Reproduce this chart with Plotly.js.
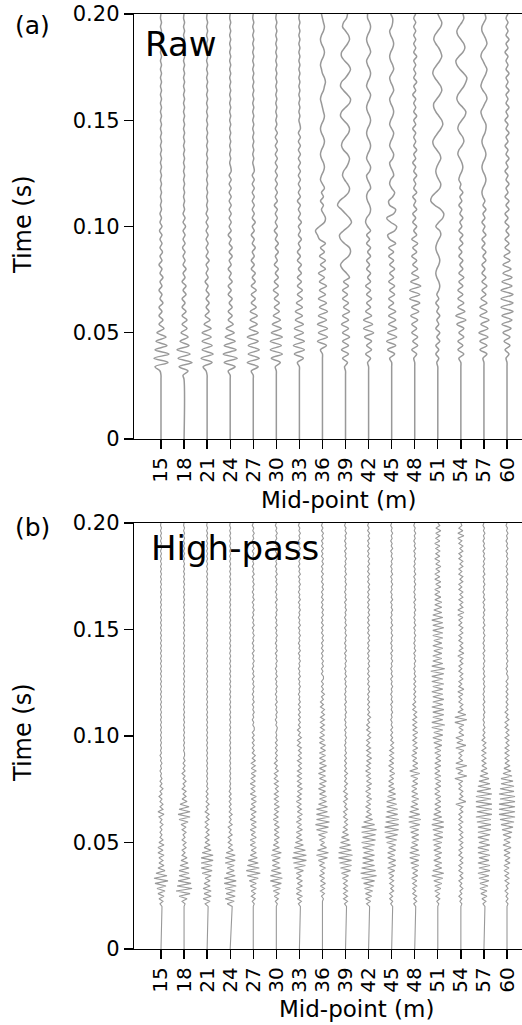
<!DOCTYPE html>
<html><head><meta charset="utf-8">
<script src="https://cdn.plot.ly/plotly-3.0.1.min.js"></script>
<style>html,body{margin:0;padding:0;background:#fff}#chart{width:522px;height:1025px}</style>
</head><body><div id="chart"></div>
<script>
// ---------- data ----------
const midpoints = [15,18,21,24,27,30,33,36,39,42,45,48,51,54,57,60];
const midpointLabels = midpoints.map(String);
const timeTicks = [0, 0.05, 0.10, 0.15, 0.20];
const timeTickLabels = ['0','0.05','0.10','0.15','0.20'];

// Raw traces: amplitude samples (arbitrary units) from t = 0.028 s every 0.002 s
const rawStart = 0.028, rawStep = 0.002;
const rawAmp = [
 [0,0,-1,-6,7,-7,8,-6,6,-5, 5,-4,3,-2,2,-2,1,-2,2,-1, 1,-2,1,-1,2,-1,1,-2,1,-1, 1.5,-1,1,-1,1,-1.5,1,-1,.5,-1, .5,-.5,.5,-.5,.5,-.5,.5,-.5,.5,-.5, .5,-.5,.5,-.5,.5,-.5,.5,-.5,.5,-.5, .5,-.5,.5,-.5,.5,-.5,.5,-.5,.5,-.5, .5,-.5,.5,-.5,.5,-.5,.5,-.5,.5,-.5, .5,-.5,.5,-.5,.5,-.5,0],
 [0,-1,4,-5,8,-6,6,-7,5,-4, 4,-3,3,-2,3,-2,2,-2,1,-2, 2,-1,2,-2,1,-1,2,-1,1,-1, 1,-1.5,1,-1,1,-1,1.5,-1,1,-1, .5,-.5,.5,-.5,.5,-.5,.5,-.5,.5,-.5, .5,-.5,.5,-.5,.5,-.5,.5,-.5,.5,-.5, .5,-.5,.5,-.5,.5,-.5,.5,-.5,.5,-.5, .5,-.5,.5,-.5,.5,-.5,.5,-.5,.5,-.5, .5,-.5,.5,-.5,.5,-.5,0],
 [0,0,-1,-4,5,-6,6,-5,5,-5, 4,-5,4,-3,3,-2,2,-1,2,-1, 2,-1,1,-2,1,-1,1,-1,2,-1, 1,-1,1,-1,1,-1,1,-1,1,-1, .5,-.5,.5,-.5,.5,-.5,.5,-.5,.5,-.5, .5,-.5,.5,-.5,.5,-.5,.5,-.5,.5,-.5, .5,-.5,.5,-.5,.5,-.5,.5,-.5,.5,-.5, .5,-.5,.5,-.5,.5,-.5,.5,-.5,.5,-.5, .5,-.5,.5,-.5,.5,-.5,0],
 [0,0,-2,5,-6,7,-7,6,-6,5, -5,4,-4,3,-2,2,-2,2,-1,2, -2,1,-2,2,-1,1,-2,1,-1,2, -1,2,-1,1,-2,1,-1,1,-1,1, -1,1,-1,1,-1,1,-1,1,-1,1, .5,-.5,.5,-.5,.5,-.5,.5,-.5,.5,-.5, .5,-.5,.5,-.5,.5,-.5,.5,-.5,.5,-.5, .5,-.5,.5,-.5,.5,-.5,.5,-.5,.5,-.5, .5,-.5,.5,-.5,.5,-.5,0],
 [0,0,-2,5,-6,6,-5,6,-5,5, -6,5,-4,4,-3,4,-3,3,-2,2, -2,3,-2,2,-1,2,-2,1,-2,1, -1,2,-1,1,-2,1,-1,2,-1,1, -1,1,-1,1,-1,1,-1,1,-1,1, .5,-.5,.5,-.5,.5,-.5,.5,-.5,.5,-.5, .5,-.5,.5,-.5,.5,-.5,.5,-.5,.5,-.5, .5,-.5,.5,-.5,.5,-.5,.5,-.5,.5,-.5, .5,-.5,.5,-.5,.5,-.5,0],
 [0,0,0,-1,4,-5,6,-6,5,-6, 6,-5,5,-4,4,-3,3,-2,3,-2, 2,-3,2,-2,2,-1,2,-2,1,-1, 2,-1,2,-1,1,-2,1,-1,1,-1, 1,-2,1,-1,1,-1,1,-1,1,-1, 1,-1,1,-1,1,-1,1,-1,1,-1, .5,-.5,.5,-.5,.5,-.5,.5,-.5,.5,-.5, .5,-.5,.5,-.5,.5,-.5,.5,-.5,.5,-.5, .5,-.5,.5,-.5,.5,-.5,0],
 [0,0,0,0,-2,4,-5,5,-6,5, -5,4,-5,4,-4,3,-4,3,-3,3, -2,3,-2,2,-2,2,-1,2,-2,1, -2,1,-1,2,-1,1,-1,2,-1,1, -1,1,-2,1,-1,1,-1,1,-1,1, -1,1,-1,1,-1,1,-1,1,-1,1, .5,-.5,.5,-.5,.5,-.5,.5,-.5,.5,-.5, .5,-.5,.5,-.5,.5,-.5,.5,-.5,.5,-.5, .5,-.5,.5,-.5,.5,-.5,0],
 [0,0,0,0,0,0,0,-2,4,-5, 5,-4,5,-5,4,-4,5,-3,4,-4, 3,-3,4,-3,2,-4,3,-2,3,-3, 2,-2,3,-3,-5,-7,-3,2,3,1, -1,1,-2,1,-1,2,0,-2,-1,1, 2,1,-1,-2,-1,1,2,1,-1,-2, -1,1,2,1,0,-1,-2,-1,1,2, 3,2,0,-1,-2,-1,1,2,1,-1, -2,-1,1,2,1,0,-1],
 [0,0,0,-1,2,-3,3,-4,3,-3, 4,-3,3,-4,3,-3,4,-2,3,-3, 2,-3,3,-2,4,1,-3,-5,-2,3, 5,4,-1,-5,-6,-2,3,6,4,0, -4,-8,-6,-1,3,4,2,-1,-3,-2, 1,3,4,2,-2,-4,-3,0,3,4, 2,-2,-5,-4,0,4,5,2,-2,-5, -4,0,3,5,3,-1,-4,-4,-1,2, 4,3,0,-3,-2,1,2],
 [0,0,0,0,-1,2,-3,3,-2,3, -4,5,-5,4,-5,3,-3,2,-2,3, -2,2,-3,2,-1,2,-2,1,-2,2, -1,2,-2,1,-2,2,-1,-3,-2,1, 2,1,-1,-2,-1,2,1,-1,-2,1, 2,0,-2,-1,1,2,1,-1,-2,-1, 1,2,1,-1,-2,-1,1,2,0,-2, -1,1,2,1,-1,-2,0,2,1,-1, -2,-1,1,2,1,-1,-1],
 [0,0,0,0,0,-2,3,-4,4,-5, 5,-4,5,-3,4,-3,4,-3,2,-3, 3,-2,3,-3,2,-2,3,-2,2,-3, 2,-3,4,-2,-4,3,5,-1,-5,2, 4,-2,-3,1,3,0,-2,-1,2,1, -1,-2,1,2,0,-2,-1,1,2,0, -2,-1,1,2,1,-1,-2,0,2,1, -1,-2,0,2,1,-1,-2,-1,1,2, 1,-1,-2,0,1,1,-1],
 [0,0,0,0,0,-1,2,-3,3,-2, 3,-3,2,-3,3,-4,4,-3,5,-5, 5,-5,6,-4,4,-3,3,-2,2,-3, 2,-2,3,-3,2,-1,2,-2,1,-2, 2,-1,1,-2,2,-1,1,-1,2,-1, 1,-2,1,-1,2,-1,1,-1,1,-2, 1,-1,2,-1,1,-1,1,-2,1,-1, 2,-1,1,-1,1,-1,2,-1,1,-1, 1,-1,1,-1,1,-1,1],
 [0,0,0,0,-1,1,-2,1,-2,2, -1,2,-2,1,-1,2,-1,1,-2,1, -1,1,2,1,-1,-2,-1,1,2,1, -1,-2,-1,1,3,2,-2,1,5,6, 3,-3,-7,-6,-2,2,3,1,-1,-2, -1,1,3,2,-1,-4,-5,-3,0,3, 5,4,1,-2,-4,-4,-1,2,4,3, 0,-3,-5,-4,-1,2,4,3,1,-2, -4,-3,0,3,4,2,0],
 [0,0,0,0,0,-2,3,-3,2,-3, 3,-2,3,-4,5,-5,4,-3,3,-3, 2,-3,2,-2,3,-2,2,-1,2,-2, 1,-2,2,-1,2,-2,1,-1,2,-1, 1,-2,1,-1,2,-1,0,-2,-1,1, 2,1,-1,-3,-2,1,3,2,-1,-3, -2,1,4,5,2,-2,-4,-3,0,3, 5,6,3,-1,-4,-5,-2,2,4,3, 0,-3,-4,-2,1,3,2],
 [0,0,0,0,0,-1,3,-4,3,-4, 4,-5,4,-3,5,-4,3,-4,3,-3, 2,-2,3,-2,2,-2,1,-2,2,-1, 2,-2,1,-2,2,-1,1,-2,1,-1, 2,-1,1,-1,-2,-1,1,2,1,-1, -2,-1,1,2,1,-1,-2,-1,1,2, 2,0,-2,-3,-1,1,3,2,-1,-3, -2,0,2,3,1,-1,-3,-2,1,3, 2,0,-2,-2,0,2,1],
 [0,0,0,0,0,-1,2,-2,3,-3, 3,-4,4,-5,5,-5,6,-6,6,-6, 6,-6,5,-5,5,-4,4,-4,3,-3, 3,-2,2,-2,2,-1,2,-2,1,-2, 2,-1,2,-2,1,-1,2,-1,1,-2, 1,-1,2,-1,1,-2,1,-1,2,-1, 1,-2,1,-1,2,-1,1,-1,2,-1, 1,-1,2,-1,1,-1,1,-2,1,-1, 2,-1,1,-1,1,-1,1]
];

// High-pass traces: amplitude samples (arbitrary units) from t = 0.020 s every 0.0012 s
const hpStart = 0.020, hpStep = 0.0012;
const hpAmp = [
 [1,-1,2,-2,3,-3,4,-4,5,-6, 7,-7,6,-5,4,-3,3,-2,2,-2, 3,-3,2,-3,3,-2,2,-1,1,-1, 1,-1,2,-1,1,-2,3,-3,2,-1, 2,-1,1,-2,1,-1,2,-1,1,-1, 1,-.5,.5,-1,.5,-.5,1,-.5,.5,-1,
  .5,-.5,.5,-.5,.5,-.5,.5,-.5,.5,-.5, .5,-.5,.5,-.5,.5,-.5,.5,-.5,.5,-.5, .5,-.5,.5,-.5,.5,-.5,.5,-.5,.5,-.5, .5,-.5,.5,-.5,.5,-.5,.5,-.5,.5,-.5, .5,-.5,.5,-.5,.5,-.5,.5,-.5,.5,-.5, .5,-.5,.5,-.5,.5,-.5,.5,-.5,.5,-.5, .5,-.5,.5,-.5,.5,-.5,.5,-.5,.5,-.5, .5,-.5,.5,-.5,.5,-.5,.5,-.5,.5,-.5, .5,-.5,.5,-.5,.5,-.5,.5,-.5,.5,-.5, 0],
 [0,1,-2,3,-5,6,-8,8,-7,7, -6,6,-5,5,-5,5,-4,4,-3,3, -2,1,-2,2,-1,2,-2,1,-1,2, -2,2,-3,4,-5,6,-6,6,-5,5, -4,3,-2,2,-1,2,-2,1,-1,2, -1,1,-2,1,-1,1,-1,1,-.5,.5,
  .5,-.5,.5,-.5,.5,-.5,.5,-.5,.5,-.5, .5,-.5,.5,-.5,.5,-.5,.5,-.5,.5,-.5, .5,-.5,.5,-.5,.5,-.5,.5,-.5,.5,-.5, .5,-.5,.5,-.5,.5,-.5,.5,-.5,.5,-.5, .5,-.5,.5,-.5,.5,-.5,.5,-.5,.5,-.5, .5,-.5,.5,-.5,.5,-.5,.5,-.5,.5,-.5, .5,-.5,.5,-.5,.5,-.5,.5,-.5,.5,-.5, .5,-.5,.5,-.5,.5,-.5,.5,-.5,.5,-.5, .5,-.5,.5,-.5,.5,-.5,.5,-.5,.5,-.5, 0],
 [1,-2,3,-4,4,-3,4,-4,3,-3, 3,-2,4,-5,5,-6,5,-6,6,-6, 6,-5,4,-3,3,-2,2,-2,2,-1, 2,-2,1,-2,2,-1,2,-2,1,-1, 2,-1,1,-1,1,-1,1,-.5,.5,-.5,
  .5,-.5,.5,-.5,.5,-.5,.5,-.5,.5,-.5, .5,-.5,.5,-.5,.5,-.5,.5,-.5,.5,-.5, .5,-.5,.5,-.5,.5,-.5,.5,-.5,.5,-.5, .5,-.5,.5,-.5,.5,-.5,.5,-.5,.5,-.5, .5,-.5,.5,-.5,.5,-.5,.5,-.5,.5,-.5, .5,-.5,.5,-.5,.5,-.5,.5,-.5,.5,-.5, .5,-.5,.5,-.5,.5,-.5,.5,-.5,.5,-.5, .5,-.5,.5,-.5,.5,-.5,.5,-.5,.5,-.5, .5,-.5,.5,-.5,.5,-.5,.5,-.5,.5,-.5, .5,-.5,.5,-.5,.5,-.5,.5,-.5,.5,-.5, 0],
 [2,-3,4,-5,5,-4,5,-5,6,-6, 6,-6,5,-4,4,-3,4,-5,5,-5, 5,-4,3,-2,2,-2,1,-2,2,-1, 1,-2,2,-1,1,-1,2,-1,1,-1, 1,-1,1,-1,1,-1,.5,-.5,.5,-.5,
  .5,-.5,.5,-.5,.5,-.5,.5,-.5,.5,-.5, .5,-.5,.5,-.5,.5,-.5,.5,-.5,.5,-.5, .5,-.5,.5,-.5,.5,-.5,.5,-.5,.5,-.5, .5,-.5,.5,-.5,.5,-.5,.5,-.5,.5,-.5, .5,-.5,.5,-.5,.5,-.5,.5,-.5,.5,-.5, .5,-.5,.5,-.5,.5,-.5,.5,-.5,.5,-.5, .5,-.5,.5,-.5,.5,-.5,.5,-.5,.5,-.5, .5,-.5,.5,-.5,.5,-.5,.5,-.5,.5,-.5, .5,-.5,.5,-.5,.5,-.5,.5,-.5,.5,-.5, .5,-.5,.5,-.5,.5,-.5,.5,-.5,.5,-.5, 0],
 [0,1,-1,2,-2,2,-2,3,-3,3, -4,5,-6,7,-7,6,-6,5,-5,4, -3,3,-2,3,-3,2,-3,3,-2,2, -3,3,-2,3,-3,2,-2,3,-3,2, -2,3,-2,3,-3,2,-2,2,-3,2, -2,2,-2,3,-2,2,-2,2,-1,2, -1,1,-1,1,-1,1,-1,1,-1,1,
  1,-.5,.5,-1,.5,-.5,1,-.5,.5,-1, 1,-.5,.5,-1,.5,-.5,1,-.5,.5,-1, 1,-.5,.5,-1,.5,-.5,1,-.5,.5,-1, 1,-.5,.5,-1,.5,-.5,1,-.5,.5,-1, 1,-.5,.5,-1,.5,-.5,1,-.5,.5,-1, 1,-.5,.5,-1,.5,-.5,1,-.5,.5,-1, 1,-.5,.5,-1,.5,-.5,1,-.5,.5,-1, 1,-.5,.5,-1,.5,-.5,1,-.5,.5,-1, 0],
 [0,1,-1,2,-2,3,-3,4,-4,5, -6,6,-6,5,-5,4,-4,3,-4,4, -5,5,-4,3,-3,2,-2,3,-2,2, -2,3,-2,2,-3,2,-2,2,-2,3, -2,2,-2,2,-2,2,-1,2,-2,2, -2,1,-2,2,-1,1,-2,1,-1,1, -1,1,-1,1,-1,1,-.5,.5,-.5,.5,
  1,-.5,.5,-1,.5,-.5,1,-.5,.5,-1, 1,-.5,.5,-1,.5,-.5,1,-.5,.5,-1, 1,-.5,.5,-1,.5,-.5,1,-.5,.5,-1, 1,-.5,.5,-1,.5,-.5,1,-.5,.5,-1, 1,-.5,.5,-1,.5,-.5,1,-.5,.5,-1, 1,-.5,.5,-1,.5,-.5,1,-.5,.5,-1, 1,-.5,.5,-1,.5,-.5,1,-.5,.5,-1, 1,-.5,.5,-1,.5,-.5,1,-.5,.5,-1, 0],
 [1,-1,2,-2,3,-3,2,-3,3,-2, 3,-3,2,-3,4,-5,6,-6,7,-7, 7,-6,6,-5,4,-4,3,-3,2,-3, 3,-2,2,-3,2,-2,3,-2,2,-2, 2,-3,2,-2,2,-2,3,-2,2,-2, 2,-2,2,-2,2,-1,2,-2,2,-1, 2,-1,2,-2,1,-2,2,-1,1,-2, 1,-1,1,-1,1,-1,1,-1,1,-1,
  1,-.5,.5,-1,.5,-.5,1,-.5,.5,-1, 1,-.5,.5,-1,.5,-.5,1,-.5,.5,-1, 1,-.5,.5,-1,.5,-.5,1,-.5,.5,-1, 1,-.5,.5,-1,.5,-.5,1,-.5,.5,-1, 1,-.5,.5,-1,.5,-.5,1,-.5,.5,-1, 1,-.5,.5,-1,.5,-.5,1,-.5,.5,-1, 1,-.5,.5,-1,.5,-.5,1,-.5,.5,-1, 0],
 [0,0,0,1,-1,2,-2,2,-2,3, -2,2,-3,2,-2,3,-3,2,-4,5, -6,6,-5,4,-2,2,-3,3,-4,5, -6,6,-7,7,-6,7,-6,5,-6,5, -4,4,-3,4,-3,3,-4,3,-3,4, -3,3,-4,3,-3,4,-3,3,-3,3, -3,3,-2,3,-3,2,-3,2,-2,2, -2,2,-2,2,-2,2,-1,2,-2,1, -2,1,-1,2,-1,1,-1,1,-1,1,
  1,-1,.5,-1,1,-.5,1,-1,.5,-1, 1,-1,.5,-1,1,-.5,1,-1,.5,-1, 1,-1,.5,-1,1,-.5,1,-1,.5,-1, 1,-1,.5,-1,1,-.5,1,-1,.5,-1, 1,-1,.5,-1,1,-.5,1,-1,.5,-1, 1,-1,.5,-1,1,-.5,1,-1,.5,-1, 0],
 [1,-1,2,-2,2,-2,2,-2,2,-2, 2,-3,3,-4,5,-5,6,-6,6,-7, 7,-7,6,-6,5,-5,4,-4,3,-3, 2,-2,2,-1,2,-2,1,-2,2,-1, 1,-2,2,-1,2,-2,1,-1,2,-1, 1,-1,2,-1,1,-1,1,-1,1,-1,
  1,-.5,.5,-1,.5,-.5,1,-.5,.5,-1, 1,-.5,.5,-1,.5,-.5,1,-.5,.5,-1, 1,-.5,.5,-1,.5,-.5,1,-.5,.5,-1, 1,-.5,.5,-1,.5,-.5,1,-.5,.5,-1, 1,-.5,.5,-1,.5,-.5,1,-.5,.5,-1, 1,-.5,.5,-1,.5,-.5,1,-.5,.5,-1, 1,-.5,.5,-1,.5,-.5,1,-.5,.5,-1, 1,-.5,.5,-1,.5,-.5,1,-.5,.5,-1, 1,-.5,.5,-1,.5,-.5,1,-.5,.5,-1, 0],
 [1,-2,2,-3,3,-3,4,-4,5,-5, 6,-7,8,-8,7,-7,6,-6,5,-6, 6,-5,5,-6,6,-7,7,-6,7,-7, 8,-7,6,-5,4,-3,3,-2,2,-3, 2,-2,3,-2,2,-3,2,-2,3,-2, 2,-2,2,-3,2,-2,2,-2,3,-2, 2,-2,2,-2,1,-2,2,-1,2,-2, 1,-2,1,-1,2,-1,1,-1,1,-1,
  1,-1,.5,-1,1,-.5,1,-1,.5,-1, 1,-1,.5,-1,1,-.5,1,-1,.5,-1, 1,-1,.5,-1,1,-.5,1,-1,.5,-1, 1,-1,.5,-1,1,-.5,1,-1,.5,-1, 1,-1,.5,-1,1,-.5,1,-1,.5,-1, 1,-1,.5,-1,1,-.5,1,-1,.5,-1, 1,-1,.5,-1,1,-.5,1,-1,.5,-1, 0],
 [1,-1,1,-2,1,-2,2,-1,2,-2, 2,-2,2,-3,3,-4,4,-3,4,-4, 3,-4,4,-3,4,-5,5,-6,6,-7, 7,-7,7,-6,7,-6,6,-5,6,-5, 5,-5,4,-4,4,-3,3,-3,2,-3, 2,-2,3,-2,2,-3,2,-2,2,-2, 2,-2,2,-1,2,-1,1,-1,1,-1,
  1,-.5,.5,-1,.5,-.5,1,-.5,.5,-1, 1,-.5,.5,-1,.5,-.5,1,-.5,.5,-1, 1,-.5,.5,-1,.5,-.5,1,-.5,.5,-1, 1,-.5,.5,-1,.5,-.5,1,-.5,.5,-1, 1,-.5,.5,-1,.5,-.5,1,-.5,.5,-1, 1,-.5,.5,-1,.5,-.5,1,-.5,.5,-1, 1,-.5,.5,-1,.5,-.5,1,-.5,.5,-1, 1,-.5,.5,-1,.5,-.5,1,-.5,.5,-1, 0],
 [1,-1,2,-1,2,-2,1,-2,2,-2, 2,-3,3,-2,3,-3,4,-4,4,-5, 5,-5,4,-4,3,-3,4,-3,4,-4, 4,-5,5,-6,6,-6,5,-5,4,-4, 3,-3,4,-3,3,-3,2,-3,3,-2, 3,-4,5,-5,3,-2,3,-2,2,-3, 2,-2,3,-2,2,-2,2,-2,3,-2, 2,-2,2,-2,2,-1,2,-2,1,-2, 1,-1,1,-1,1,-1,1,-1,1,-1,
  1,-.5,.5,-1,.5,-.5,1,-.5,.5,-1, 1,-.5,.5,-1,.5,-.5,1,-.5,.5,-1, 1,-.5,.5,-1,.5,-.5,1,-.5,.5,-1, 1,-.5,.5,-1,.5,-.5,1,-.5,.5,-1, 1,-.5,.5,-1,.5,-.5,1,-.5,.5,-1, 1,-.5,.5,-1,.5,-.5,1,-.5,.5,-1, 0],
 [0,1,-1,2,-2,2,-3,3,-3,4, -4,5,-6,6,-5,4,-3,4,-4,3, -3,4,-4,3,-4,4,-5,5,-4,5, -5,6,-6,6,-5,4,-4,3,-3,3, -3,3,-2,3,-3,2,-3,3,-2,3, -3,3,-3,2,-3,3,-3,3,-2,3, -3,3,-3,4,-4,4,-5,5,-4,5, -6,7,-6,5,-5,6,-5,6,-6,5, -5,6,-5,5,-6,5,-5,6,-6,5,
  -6,6,-7,7,-6,5,-5,4,-5,4, -4,5,-5,4,-4,5,-5,5,-5,6, -5,5,-6,5,-5,4,-4,4,-3,4, -3,3,-3,2,-3,3,-2,3,-3,2, -3,2,-2,3,-2,2,-3,2,-2,2, -2,2,-3,2,-2,2,-2,3,-2,2, 0],
 [0,1,-1,1,-2,1,-1,2,-1,1, -2,2,-1,2,-2,1,-2,2,-1,2, -2,1,-2,2,-1,2,-2,2,-1,2, -2,1,-2,2,-2,1,-2,2,-1,2, -5,5,-2,2,-1,2,-2,1,-2,2, -6,6,-3,2,-5,6,-5,2,-2,1, -2,3,-5,5,-4,2,-5,3,-2,2, -2,3,-6,6,-6,5,-3,2,-1,2, -2,1,-2,2,-3,3,-2,1,-2,2,
  -1,2,-2,1,-2,2,-1,2,-3,3, -2,2,-1,2,-2,1,-2,2,-1,2, -2,1,-2,2,-3,3,-3,2,-1,2, -2,2,-1,2,-2,1,-2,2,-1,2, -2,1,-2,2,-1,2,-2,1,-2,2, -1,2,-2,1,-3,3,-3,2,-2,1, 0],
 [1,-1,2,-2,3,-3,3,-4,4,-4, 5,-5,5,-6,6,-5,6,-6,5,-5, 6,-6,5,-6,6,-5,5,-6,6,-6, 7,-6,7,-7,7,-8,8,-7,8,-8, 8,-8,7,-8,8,-7,7,-6,6,-5, 5,-4,4,-3,3,-2,2,-2,2,-2, 2,-2,2,-1,2,-2,1,-1,1,-1,
  1,-.5,.5,-1,.5,-.5,1,-.5,.5,-1, 1,-.5,.5,-1,.5,-.5,1,-.5,.5,-1, 1,-.5,.5,-1,.5,-.5,1,-.5,.5,-1, 1,-.5,.5,-1,.5,-.5,1,-.5,.5,-1, 1,-.5,.5,-1,.5,-.5,1,-.5,.5,-1, 1,-.5,.5,-1,.5,-.5,1,-.5,.5,-1, 1,-.5,.5,-1,.5,-.5,1,-.5,.5,-1, 1,-.5,.5,-1,.5,-.5,1,-.5,.5,-1, 0],
 [0,1,-1,1,-1,1,-2,1,-1,2, -2,2,-2,2,-3,2,-3,3,-2,3, -3,3,-3,4,-4,3,-3,4,-4,5, -5,6,-6,7,-7,8,-8,8,-8,8, -8,8,-7,8,-8,7,-7,7,-6,6, -6,5,-4,4,-3,3,-2,2,-2,2, -2,2,-2,2,-1,2,-2,2,-1,2, -2,1,-2,2,-1,1,-2,1,-1,1, -1,1,-1,1,-1,1,-1,1,-1,1,
  1,-.5,.5,-1,.5,-.5,1,-.5,.5,-1, 1,-.5,.5,-1,.5,-.5,1,-.5,.5,-1, 1,-.5,.5,-1,.5,-.5,1,-.5,.5,-1, 1,-.5,.5,-1,.5,-.5,1,-.5,.5,-1, 1,-.5,.5,-1,.5,-.5,1,-.5,.5,-1, 1,-.5,.5,-1,.5,-.5,1,-.5,.5,-1, 0]
];

// ---------- drawing ----------
const FONT = 'DejaVu Sans, Liberation Sans, Arial, sans-serif';
const W = 522, H = 1025;
const gain = 0.13;             // wiggle scale: amplitude unit -> metres of offset
const traceColor = '#999999';

function makeTraces(ampSets, t0, dt, xa, ya, shape, width) {
  return ampSets.map((amps, i) => {
    const x = [midpoints[i]], y = [0];
    amps.forEach((a, k) => { x.push(midpoints[i] + gain * a); y.push(t0 + k * dt); });
    return {type:'scatter', mode:'lines', x, y, xaxis:xa, yaxis:ya, hoverinfo:'skip',
            line:{color:traceColor, width, shape, smoothing:1}};
  });
}

const data = [
  ...makeTraces(rawAmp, rawStart, rawStep, 'x', 'y', 'spline', 1.5),
  ...makeTraces(hpAmp, hpStart, hpStep, 'x2', 'y2', 'linear', 1.1)
];

function xAxis(anchor) {
  return {anchor, domain:[134/W, 1], range:[11.49, 61.95], tickmode:'array',
    tickvals:midpoints, ticktext:midpointLabels, tickangle:-90, ticks:'outside',
    ticklen:9, tickwidth:1.3, tickcolor:'#000', showline:true, linecolor:'#000', linewidth:1.3,
    mirror:true, showgrid:false, zeroline:false, tickfont:{family:FONT, size:20, color:'#000'}};
}
function yAxis(anchor, top, bottom) {
  return {anchor, domain:[1 - bottom / H, 1 - top / H], range:[0, 0.2], tickmode:'array',
    tickvals:timeTicks, ticktext:timeTickLabels, ticks:'outside', ticklen:9, tickwidth:1.3,
    tickcolor:'#000', showline:true, linecolor:'#000', linewidth:1.3, showgrid:false,
    zeroline:false, tickfont:{family:FONT, size:21, color:'#000'}};
}
function ann(text, px, py, size, opts) {
  return Object.assign({text, x:px / W, y:1 - py / H, xref:'paper', yref:'paper',
    showarrow:false, xanchor:'center', yanchor:'middle',
    font:{family:FONT, size, color:'#000'}}, opts || {});
}

const layout = {
  width:W, height:H, margin:{l:0, r:0, t:0, b:0, pad:0},
  paper_bgcolor:'#fff', plot_bgcolor:'#fff', showlegend:false,
  xaxis:xAxis('y'), yaxis:yAxis('x', 14, 439),
  xaxis2:xAxis('y2'), yaxis2:yAxis('x2', 523, 949),
  annotations:[
    ann('(a)', 32, 25, 25),
    ann('(b)', 32, 527, 25),
    ann('Raw', 143, 44, 34, {xanchor:'left'}),
    ann('High-pass', 149, 548, 34, {xanchor:'left'}),
    ann('Mid-point (m)', 338, 500, 23),
    ann('Mid-point (m)', 356, 1009, 23),
    ann('Time (s)', 23, 225, 24, {textangle:-90}),
    ann('Time (s)', 23, 733, 24, {textangle:-90})
  ]
};

Plotly.newPlot('chart', data, layout, {staticPlot:true, displayModeBar:false});
</script>
</body></html>
